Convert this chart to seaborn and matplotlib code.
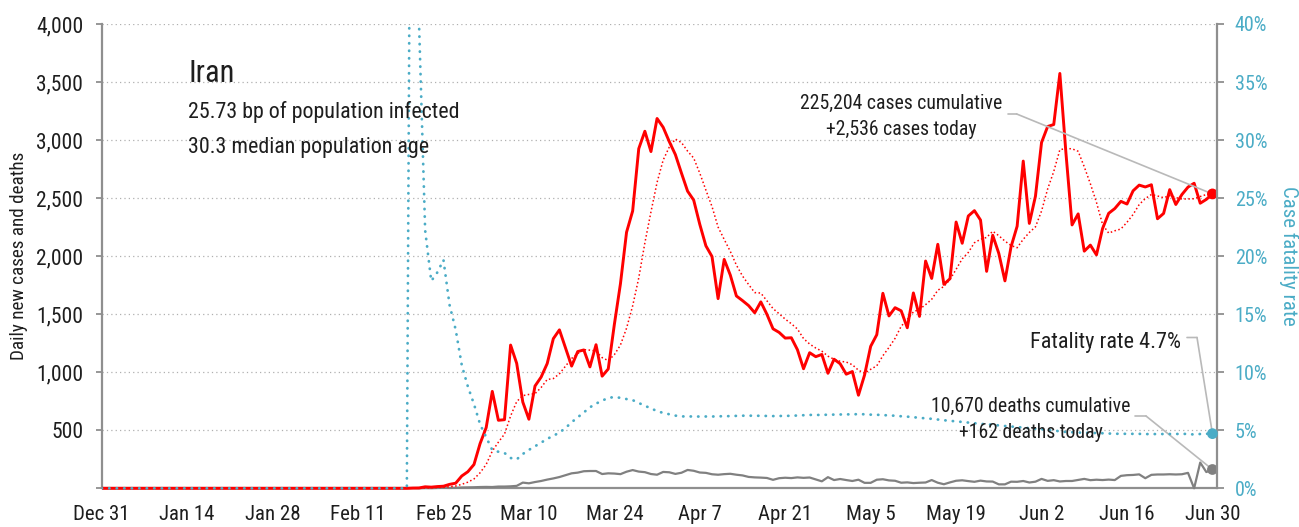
import numpy as np
import pandas as pd
import matplotlib
matplotlib.use("Agg")
import matplotlib.pyplot as plt
from matplotlib import font_manager
from matplotlib.ticker import MultipleLocator, FuncFormatter
from matplotlib.transforms import Bbox, TransformedBbox
import matplotlib.dates as mdates
import seaborn as sns

# ---------------------------------------------------------------- data
country = "Iran"
subtitle_lines = ["25.73 bp of population infected", "30.3 median population age"]

first_day = "2019-12-31"
last_day = "2020-06-30"
quiet_days = 51  # Dec 31 .. Feb 19: nothing reported yet

# daily new cases, Feb 20 .. Jun 30
new_cases = [
    2, 3, 13, 10, 15, 18, 34, 44, 106, 143, 205,
    385, 523, 835, 586, 591, 1234, 1076, 743, 595, 881,
    958, 1075, 1289, 1365, 1209, 1053, 1178, 1192, 1046, 1237,
    966, 1028, 1411, 1762, 2206, 2389, 2926, 3076, 2901, 3186, 3110,
    2987, 2875, 2715, 2560, 2483, 2274, 2089, 1997, 1634, 1972,
    1837, 1657, 1617, 1574, 1512, 1606, 1499, 1374, 1343, 1294,
    1297, 1194, 1030, 1168, 1134, 1153, 991, 1112, 1073, 983,
    1006, 802, 976, 1223, 1323, 1680, 1485, 1556, 1529, 1383,
    1683, 1481, 1958, 1808, 2102, 1757, 1806, 2294, 2111, 2346,
    2392, 2311, 1869, 2180, 2023, 1787, 2080, 2258, 2819, 2282, 2516,
    2979, 3117, 3134, 3574, 2886, 2269, 2364, 2043, 2095, 2011,
    2238, 2369, 2410, 2472, 2449, 2563, 2612, 2596, 2615, 2322,
    2368, 2573, 2445, 2531, 2595, 2628, 2456, 2489, 2536,
]

# daily new deaths, Feb 20 .. Jun 30
new_deaths = [
    2, 0, 2, 1, 3, 4, 3, 4, 7, 8, 9,
    11, 12, 11, 15, 15, 17, 21, 49, 43, 54,
    63, 75, 85, 97, 113, 129, 135, 147, 149, 149,
    123, 129, 127, 122, 143, 157, 144, 139, 123, 117, 141,
    138, 124, 134, 158, 151, 136, 133, 121, 117, 122,
    125, 117, 111, 98, 94, 92, 89, 73, 87, 91,
    88, 94, 90, 93, 76, 60, 96, 71, 80, 71,
    63, 74, 47, 47, 74, 78, 68, 65, 48, 51,
    45, 48, 50, 71, 48, 35, 51, 65, 69, 62,
    56, 66, 59, 58, 34, 34, 57, 56, 63, 50, 57,
    81, 64, 70, 59, 63, 63, 72, 81, 70, 74,
    71, 75, 71, 107, 113, 115, 120, 87, 116, 119,
    119, 121, 119, 121, 133, 0, 222, 140, 162,
]

total_cases = 225204
total_deaths = 10670

# ---------------------------------------------------------------- frame
dates = pd.date_range(first_day, last_day, freq="D")
df = pd.DataFrame({
    "date": dates,
    "cases": np.array([0] * quiet_days + new_cases, dtype=float),
    "deaths": np.array([0] * quiet_days + new_deaths, dtype=float),
})
df["cases_7d"] = df["cases"].rolling(7, min_periods=1).mean()
cum_cases = df["cases"].cumsum()
cum_deaths = df["deaths"].cumsum()
df["cfr"] = np.where(cum_cases > 0, 100 * cum_deaths / cum_cases.where(cum_cases > 0, 1), 0.0)


# ---------------------------------------------------------------- fonts
def narrow_font():
    """Pick a condensed sans face if one is installed."""
    widths = {}
    for f in font_manager.fontManager.ttflist:
        st = f.stretch
        if isinstance(st, str):
            st = font_manager.stretch_dict.get(st, 500)
        widths.setdefault(f.name, set()).add(st)
    for name in ("Roboto Condensed", "Liberation Sans Narrow", "Arial Narrow",
                 "Open Sans Condensed", "Noto Sans Condensed", "DejaVu Sans Condensed"):
        if name in widths:
            return name, "normal"
    for name in ("Roboto", "Noto Sans", "Open Sans", "DejaVu Sans", "Liberation Sans"):
        if name in widths and min(widths[name]) < 500:
            return name, "condensed"
    return "Liberation Sans", "normal"


sns.set_style("white")
face, stretch = narrow_font()
plt.rcParams["font.family"] = [face, "Liberation Sans", "DejaVu Sans"]
plt.rcParams["font.stretch"] = stretch

INK = "#1e1e1e"
AXIS_GREY = "#8f8f8f"
GRID_GREY = "#b0b0b0"
TEAL = "#4bacc6"
DEATH_GREY = "#808080"
LINK_GREY = "#b9b9b9"
RED = "#ff0000"

W, H = 1299, 527
fig = plt.figure(figsize=(W / 100, H / 100), dpi=100)
ax = fig.add_axes([101.7 / W, 38.7 / H, 1115 / W, 464.3 / H])
ax2 = ax.twinx()

line_kw = dict(estimator=None, errorbar=None, legend=False)
sns.lineplot(data=df, x="date", y="deaths", ax=ax, color=DEATH_GREY,
             linewidth=1.6, zorder=3, **line_kw)
sns.lineplot(data=df, x="date", y="cases_7d", ax=ax, color=RED,
             linewidth=1.1, linestyle=(0, (1, 1.6)), zorder=4, **line_kw)
sns.lineplot(data=df, x="date", y="cases", ax=ax, color=RED,
             linewidth=2.1, zorder=5, **line_kw)
sns.lineplot(data=df, x="date", y="cfr", ax=ax2, color=TEAL,
             linewidth=2.0, linestyle=(0, (0.1, 2.6)), dash_capstyle="round",
             zorder=3, **line_kw)

# let lines sitting on zero show fully over the baseline
for a in (ax, ax2):
    for ln in a.lines:
        ln.set_clip_box(TransformedBbox(Bbox([[0, -0.03], [1, 1]]), a.transAxes))

# end-of-series markers
last = df.iloc[-1]
sns.scatterplot(x=[last["date"]], y=[last["cases"]], ax=ax, color=RED, s=60,
                edgecolor="none", zorder=7, clip_on=False, legend=False)
sns.scatterplot(x=[last["date"]], y=[last["deaths"]], ax=ax, color=DEATH_GREY, s=60,
                edgecolor="none", zorder=7, clip_on=False, legend=False)
sns.scatterplot(x=[last["date"]], y=[last["cfr"]], ax=ax2, color=TEAL, s=60,
                edgecolor="none", zorder=7, clip_on=False, legend=False)

# ---------------------------------------------------------------- axes
ax.set_xlim(dates[0], dates[0] + pd.Timedelta(days=182.7))
ax.set_ylim(0, 4000)
ax2.set_ylim(0, 40)

ax.set_xticks(pd.date_range(first_day, last_day, freq="14D"))
ax.xaxis.set_major_formatter(FuncFormatter(
    lambda v, _: f"{mdates.num2date(v):%b} {mdates.num2date(v).day}"))
ax.yaxis.set_major_locator(MultipleLocator(500))
ax.yaxis.set_major_formatter(FuncFormatter(lambda v, _: "" if v == 0 else f"{v:,.0f}"))
ax2.yaxis.set_major_locator(MultipleLocator(5))
ax2.yaxis.set_major_formatter(FuncFormatter(lambda v, _: f"{v:.0f}%"))

ax.grid(axis="y", color=GRID_GREY, linestyle=(0, (1, 2.5)), linewidth=0.9)
ax.grid(axis="x", visible=False)
ax2.grid(False)
ax.set_axisbelow(True)

for side in ("top", "right"):
    ax.spines[side].set_visible(False)
for side in ("top", "left", "bottom"):
    ax2.spines[side].set_visible(False)
for sp in (ax.spines["left"], ax.spines["bottom"], ax2.spines["right"]):
    sp.set_color(AXIS_GREY)
    sp.set_linewidth(1.6)

ax.tick_params(axis="both", direction="out", length=4.3, width=1.3,
               color=AXIS_GREY, labelcolor=INK)
ax.tick_params(axis="y", pad=9, labelsize=15.5)
ax.tick_params(axis="x", pad=8, labelsize=15)
ax2.tick_params(axis="y", direction="out", length=5, width=1.3, color=AXIS_GREY,
                labelsize=14.5, labelcolor=TEAL, pad=8)

ax.set_xlabel("")
ax.set_ylabel("Daily new cases and deaths", fontsize=13.8, color=INK)
ax.yaxis.set_label_coords((19 - 101.7) / 1115, 0.5)
ax.yaxis.label.set(ha="center", va="center", rotation_mode="default")
ax2.set_ylabel("Case fatality rate", fontsize=15, color=TEAL, rotation=270)
ax2.yaxis.set_label_coords((1289 - 101.7) / 1115, 0.5)
ax2.yaxis.label.set(ha="center", va="center", rotation_mode="default")

# ---------------------------------------------------------------- text
def fx(px):
    return (px - 101.7) / 1115


def fy(py):
    return (488.3 - py) / 464.3


txt = dict(transform=ax2.transAxes, color=INK, zorder=8)
ax2.text(fx(189), fy(81.7), country, fontsize=22, ha="left", va="baseline", **txt)
ax2.text(fx(188), fy(118), subtitle_lines[0], fontsize=15.8, ha="left", va="baseline", **txt)
ax2.text(fx(188), fy(153.3), subtitle_lines[1], fontsize=15.8, ha="left", va="baseline", **txt)

ax2.text(fx(901), fy(109.3), f"{total_cases:,} cases cumulative",
         fontsize=14.2, ha="center", va="baseline", **txt)
ax2.text(fx(901), fy(135), f"+{int(last['cases']):,} cases today",
         fontsize=14.2, ha="center", va="baseline", **txt)
ax2.text(fx(1181), fy(347.7), f"Fatality rate {last['cfr']:.1f}%",
         fontsize=16, ha="right", va="baseline", **txt)
ax2.text(fx(1030.5), fy(412), f"{total_deaths:,} deaths cumulative",
         fontsize=14.2, ha="center", va="baseline", **txt)
ax2.text(fx(1030.5), fy(437.7), f"+{int(last['deaths']):,} deaths today",
         fontsize=14.2, ha="center", va="baseline", **txt)

link = dict(arrowstyle="-", color=LINK_GREY, lw=1.2, shrinkA=0, shrinkB=0)


def connector(axis, x0, x1, y, target):
    axis.annotate("", xy=(fx(x1), fy(y)), xycoords="axes fraction",
                  xytext=(fx(x0), fy(y)), textcoords="axes fraction",
                  arrowprops=link, annotation_clip=False, zorder=6)
    axis.annotate("", xy=target, xycoords="data",
                  xytext=(fx(x1), fy(y)), textcoords="axes fraction",
                  arrowprops=link, annotation_clip=False, zorder=6)


connector(ax, 1008, 1016.7, 114, (last["date"], last["cases"]))
connector(ax2, 1187, 1197, 337.5, (last["date"], last["cfr"]))
connector(ax, 1135, 1146, 416, (last["date"], last["deaths"]))

fig.savefig("out.png", dpi=100)
